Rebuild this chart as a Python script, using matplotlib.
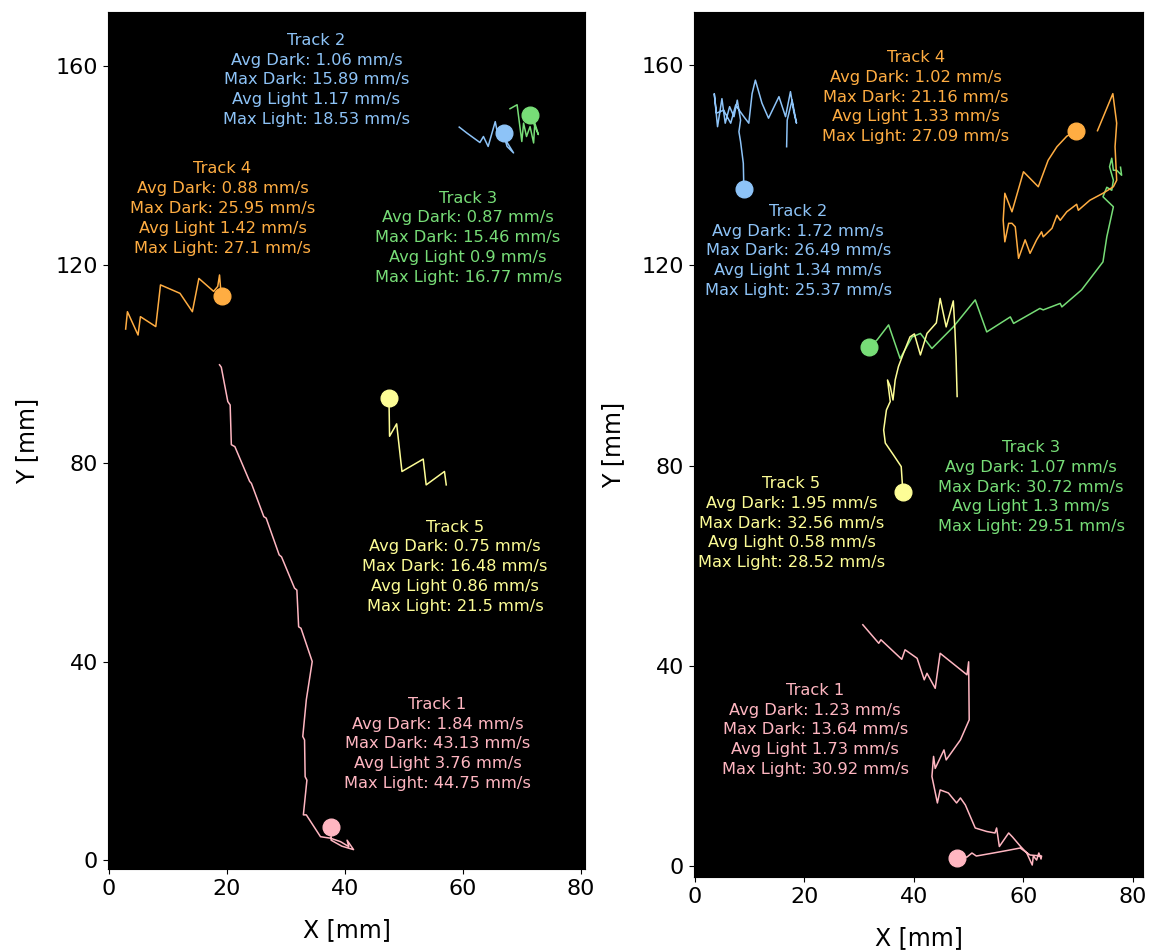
import matplotlib
matplotlib.use("Agg")
from matplotlib import pyplot as plt

# track colours, Track 1..5
colors = ["#ffb6c1", "#8dc3f7", "#77dd77", "#ffad42", "#fdfd96"]

# ---- recording A (left) ----
a_x1 = [18.8, 19.1, 20.2, 20.6, 20.8, 21.4, 23.9, 24.2, 26.3, 26.7, 28.9, 29.3, 31.5, 31.9,
        32.2, 32.6, 34.5, 33.5, 32.9, 33.2, 33.3, 33.6, 33.0, 33.5, 35.9, 37.6, 39.3, 40.7,
        40.4, 41.5, 39.5, 37.7, 37.7]
a_y1 = [99.8, 99.3, 92.4, 91.7, 83.7, 83.3, 76.3, 75.9, 69.2, 68.9, 61.5, 61.1, 54.8, 54.4,
        47.0, 46.7, 40.0, 32.3, 24.9, 24.2, 16.8, 16.1, 9.1, 9.1, 4.7, 4.4, 3.7, 2.7,
        4.0, 2.1, 2.8, 4.0, 6.7]
a_x2 = [59.4, 60.7, 62.9, 63.5, 64.3, 65.5, 66.0, 66.6, 67.5, 68.6, 67.2, 67.7, 67.0]
a_y2 = [147.7, 146.5, 144.6, 145.8, 143.8, 148.8, 145.8, 147.5, 143.8, 142.5, 145.2, 147.2, 146.6]
a_x3 = [68.0, 69.2, 70.0, 70.3, 70.8, 71.4, 72.0, 72.2, 72.8, 71.4]
a_y3 = [151.4, 152.2, 144.8, 148.5, 145.8, 147.8, 144.5, 148.5, 146.2, 150.2]
a_x4 = [2.9, 3.2, 5.0, 5.4, 8.0, 8.8, 12.1, 14.2, 15.3, 17.8, 18.5, 18.8, 19.0, 19.2]
a_y4 = [107.0, 110.5, 105.8, 109.5, 107.5, 115.9, 114.2, 110.5, 117.2, 114.6, 115.6, 117.9,
        114.9, 113.6]
a_x5 = [57.2, 56.9, 53.8, 53.3, 49.7, 48.8, 47.6, 47.5]
a_y5 = [75.6, 78.3, 75.6, 80.8, 78.3, 87.9, 85.4, 93.1]

a_avg_dark = [1.84, 1.06, 0.87, 0.88, 0.75]
a_max_dark = [43.13, 15.89, 15.46, 25.95, 16.48]
a_avg_light = [3.76, 1.17, 0.9, 1.42, 0.86]
a_max_light = [44.75, 18.53, 16.77, 27.1, 21.5]
a_label_x = [55.7, 35.2, 60.9, 19.3, 58.7]
a_label_y = [23.4, 157.2, 125.4, 131.3, 59.1]

# ---- recording B (right) ----
b_x1 = [30.7, 33.6, 34.0, 37.8, 38.4, 40.6, 41.9, 42.4, 43.9, 44.8, 49.7, 50.0, 50.1, 48.5,
        45.9, 45.5, 43.9, 43.6, 43.3, 44.3, 44.8, 46.3, 47.8, 48.5, 49.4, 51.2, 53.3, 54.8,
        55.1, 55.6, 57.3, 58.0, 59.4, 60.6, 61.6, 61.8, 62.4, 62.8, 63.2, 63.3, 61.2, 59.4,
        57.0, 54.5, 51.4, 50.6, 49.7, 47.9]
b_y1 = [48.2, 44.5, 45.2, 41.3, 43.2, 41.5, 37.2, 38.5, 35.5, 42.5, 38.2, 40.8, 29.2, 25.2,
        21.2, 23.2, 19.5, 21.9, 17.9, 12.6, 15.2, 14.6, 12.6, 13.6, 12.2, 7.6, 6.9, 6.6,
        7.6, 3.9, 6.6, 5.8, 4.0, 2.6, 0.2, 2.0, 1.2, 2.6, 1.4, 2.0, 2.2, 3.6,
        3.1, 2.6, 2.0, 2.6, 1.8, 1.6]
b_x2 = [16.8, 16.9, 17.8, 18.6, 18.1, 17.5, 16.6, 15.4, 13.5, 12.3, 11.1, 10.5, 9.9, 9.0,
        7.5, 6.6, 5.3, 4.0, 3.6, 4.2, 5.0, 5.6, 6.4, 7.2, 7.8, 8.4, 8.1, 8.4, 8.9, 9.0]
b_y2 = [143.7, 149.0, 153.0, 148.4, 150.7, 154.7, 149.7, 153.7, 149.4, 152.4, 157.0, 154.3,
        148.4, 149.7, 152.0, 148.4, 151.0, 150.4, 154.3, 147.7, 153.3, 148.4, 151.7, 149.7,
        153.0, 149.0, 146.7, 144.7, 140.4, 135.2]
b_x3 = [77.7, 77.9, 77.0, 76.4, 76.1, 75.7, 76.4, 76.1, 75.2, 74.5, 76.4, 75.2, 74.5, 70.6,
        67.0, 66.7, 63.6, 63.0, 58.2, 57.6, 53.3, 51.2, 47.2, 43.3, 41.2, 39.7, 37.5, 35.4,
        33.3, 31.8]
b_y3 = [139.6, 138.0, 139.0, 139.0, 141.4, 139.7, 137.0, 135.0, 135.6, 133.7, 131.7, 125.7,
        120.7, 115.1, 111.7, 112.4, 111.1, 111.4, 108.4, 109.7, 106.7, 113.1, 107.7, 103.4,
        106.4, 105.7, 101.4, 108.1, 105.1, 103.6]
b_x4 = [73.5, 76.3, 77.0, 76.7, 77.0, 76.4, 74.5, 72.1, 70.0, 69.7, 67.9, 66.7, 66.1, 65.2,
        63.6, 63.3, 62.4, 61.2, 60.3, 59.1, 58.5, 57.9, 57.3, 56.6, 56.3, 56.6, 57.9, 60.0,
        62.7, 64.5, 66.1, 67.9, 69.6]
b_y4 = [146.9, 154.3, 148.4, 143.7, 137.0, 135.7, 134.4, 133.0, 131.0, 132.2, 130.7, 129.0,
        130.0, 127.4, 125.7, 126.7, 125.1, 122.4, 125.1, 121.4, 127.7, 128.4, 128.4, 124.7,
        129.0, 134.4, 130.7, 138.7, 135.7, 141.0, 143.7, 145.8, 146.9]
b_x5 = [47.9, 47.7, 47.5, 47.2, 45.9, 44.8, 44.1, 42.4, 41.2, 40.1, 39.3, 38.1, 37.2, 36.6,
        36.2, 35.7, 35.2, 35.7, 35.0, 34.5, 34.8, 36.3, 37.7, 38.0]
b_y5 = [93.8, 101.7, 107.1, 112.9, 107.7, 113.4, 108.5, 106.4, 102.1, 106.3, 105.7, 102.4,
        99.8, 97.1, 93.1, 95.8, 97.1, 92.8, 91.1, 87.1, 84.5, 82.1, 79.8, 74.8]

b_avg_dark = [1.23, 1.72, 1.07, 1.02, 1.95]
b_max_dark = [13.64, 26.49, 30.72, 21.16, 32.56]
b_avg_light = [1.73, 1.34, 1.3, 1.33, 0.58]
b_max_light = [30.92, 25.37, 29.51, 27.09, 28.52]
b_label_x = [22.0, 18.9, 61.4, 40.4, 17.7]
b_label_y = [27.2, 122.9, 75.7, 153.6, 68.5]


def draw_panel(ax, xs, ys, avg_dark, max_dark, avg_light, max_light, lab_x, lab_y):
    for i in range(5):
        c = colors[i]
        ax.plot(xs[i], ys[i], color=c, lw=1.1)
        # marker on the final position of the track
        ax.plot(xs[i][-1], ys[i][-1], "o", color=c, ms=12)
        txt = (f"Track {i + 1}\n"
               f"Avg Dark: {avg_dark[i]} mm/s\n"
               f"Max Dark: {max_dark[i]} mm/s\n"
               f"Avg Light {avg_light[i]} mm/s\n"
               f"Max Light: {max_light[i]} mm/s")
        ax.text(lab_x[i], lab_y[i], txt, color=c, fontsize=11.7, linespacing=1.4,
                ha="center", va="center", multialignment="center")
    ax.set_facecolor("black")
    ax.set_xticks([0, 20, 40, 60, 80])
    ax.set_yticks([0, 40, 80, 120, 160])
    ax.tick_params(labelsize=16)
    ax.set_xlabel("X [mm]", fontsize=17, labelpad=14)
    ax.set_ylabel("Y [mm]", fontsize=17, labelpad=12)


fig = plt.figure(figsize=(11.57, 9.5), dpi=100)
ax1 = fig.add_axes([0.0933, 0.0853, 0.4123, 0.9021])
ax2 = fig.add_axes([0.5998, 0.0768, 0.3881, 0.9105])

draw_panel(ax1, [a_x1, a_x2, a_x3, a_x4, a_x5], [a_y1, a_y2, a_y3, a_y4, a_y5],
           a_avg_dark, a_max_dark, a_avg_light, a_max_light, a_label_x, a_label_y)
draw_panel(ax2, [b_x1, b_x2, b_x3, b_x4, b_x5], [b_y1, b_y2, b_y3, b_y4, b_y5],
           b_avg_dark, b_max_dark, b_avg_light, b_max_light, b_label_x, b_label_y)

ax1.set_xlim(-0.1, 80.7)
ax1.set_ylim(-1.8, 170.9)
ax2.set_xlim(-0.1, 81.8)
ax2.set_ylim(-2.2, 170.6)

fig.savefig("out.png", dpi=100)
